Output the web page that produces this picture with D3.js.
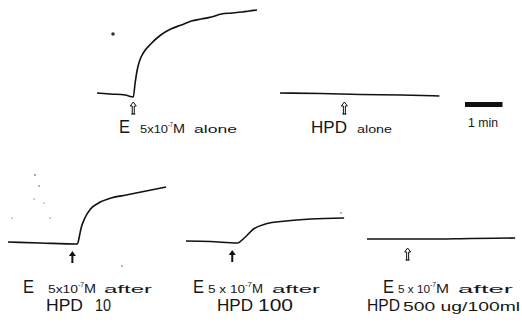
<!DOCTYPE html>
<html>
<head>
<meta charset="utf-8">
<script src="https://cdn.jsdelivr.net/npm/d3@7"></script>
<style>
  body { margin: 0; background: #fff; }
  svg { display: block; }
  text { font-family: "Liberation Sans", Arial, sans-serif; fill: #161616; }
</style>
</head>
<body>
<svg id="fig"></svg>
<script>
// Recorded traces: [time (s), pen deflection (mm)], t = 0 at the left end of each trace
const eAlone = [[0,0],[21,-1],[45,-2],[58,-4],[61,10],[64,22],[68,32],[74,40],[86,49],[102,58],[118,64],[135,68],[151,72],[167,74],[183,76],[199,79],[216,80],[232,81],[256,83]];
const hpdAlone = [[0,0],[65,-0.5],[129,-1.5],[194,-2],[255,-3]];
const eAfterHpd10 = [[0,0],[52,-1],[111,-2],[114,5],[117,14],[123,24],[132,33],[145,39],[165,44],[189,47],[213,50],[253,55]];
const eAfterHpd100 = [[0,0],[39,-0.5],[82,-2],[95,4],[108,12],[127,17],[160,20],[200,22],[253,23]];
const eAfterHpd500 = [[0,0],[86,0],[167,0.5],[237,1]];

// time of drug addition (s) for each trace
const doseTimes = [58, 103, 103, 74, 65];
const scaleBarSeconds = 60;

const traces = [eAlone, hpdAlone, eAfterHpd10, eAfterHpd100, eAfterHpd500];

// label texts
const concText = ["5x10", "5x10", "5 x 10", "5 x 10"];   // E 5x10^-7 M, panels 1,3,4,5
const tailText = ["alone", "after", "after", "after"];
const hpdDoses = ["10", "100", "500 ug/100ml"];

// ---- layout (pixels) ----
const W = 522, H = 326;
const origins = [[97, 93], [280, 93], [8, 242], [186, 241], [367, 239]];
const arrowSolid = [false, false, true, true, false];

const svg = d3.select("#fig").attr("width", W).attr("height", H);

const x = d3.scaleLinear().domain([0, 60]).range([0, 37.5]);
const y = d3.scaleLinear().domain([0, 100]).range([0, -100]);

traces.forEach((data, i) => {
  const [ox, oy] = origins[i];
  const g = svg.append("g").attr("transform", `translate(${ox},${oy})`);

  g.append("path")
    .datum(data)
    .attr("d", d3.line().x(d => x(d[0])).y(d => y(d[1])).curve(d3.curveMonotoneX))
    .attr("fill", "none")
    .attr("stroke", "#111")
    .attr("stroke-width", 1.6)
    .attr("stroke-linejoin", "round");

  // drug addition arrow
  const ax = x(doseTimes[i]);
  const top = 9, bot = 21;
  if (arrowSolid[i]) {
    g.append("line").attr("x1", ax).attr("x2", ax).attr("y1", top + 3).attr("y2", bot)
      .attr("stroke", "#111").attr("stroke-width", 2);
    g.append("path").attr("d", `M${ax - 3.5},${top + 5}L${ax},${top}L${ax + 3.5},${top + 5}Z`)
      .attr("fill", "#111");
  } else {
    g.append("path")
      .attr("d", `M${ax - 1},${bot}L${ax - 1},${top + 4}L${ax - 3},${top + 4}L${ax},${top}L${ax + 3},${top + 4}L${ax + 1},${top + 4}L${ax + 1},${bot}`)
      .attr("fill", "#fff").attr("stroke", "#111").attr("stroke-width", 1);
    g.append("line").attr("x1", ax - 2).attr("x2", ax + 2).attr("y1", bot).attr("y2", bot)
      .attr("stroke", "#111").attr("stroke-width", 1.2);
  }
});

// ---- labels: lettering is wide, so each piece is fitted to its width ----
function seg(px, py, str, size, width) {
  svg.append("text").attr("x", px).attr("y", py)
    .attr("font-size", size)
    .attr("textLength", width)
    .attr("lengthAdjust", "spacingAndGlyphs")
    .text(str);
}

// E 5x10^-7 M ... : [x of E, x of conc, conc width, x of M, M width, x of tail, tail width, baseline]
const eLabelPos = [
  [119, 140, 28, 173, 12, 194, 43, 133],
  [23, 48, 30, 84, 12, 104, 48, 293],
  [193, 208, 37, 252, 11, 272, 48, 293],
  [383, 398, 32, 436, 13, 458, 55, 293]
];
eLabelPos.forEach((p, i) => {
  const [ex, cx, cw, mx, mw, tx, tw, by] = p;
  seg(ex, by, "E", 18, 11);
  seg(cx, by, concText[i], 11, cw);
  seg(cx + cw, by - 6, "-7", 7, mx - cx - cw);
  seg(mx, by, "M", 12, mw);
  seg(tx, by, tailText[i], 10, tw);
});

// HPD alone
seg(311, 133, "HPD", 17, 36);
seg(357, 133, "alone", 10, 35);

// HPD dose lines: [x of HPD, HPD width, x of dose, dose width, dose font]
const hpdPos = [[46, 37, 95, 16, 16], [217, 36, 258, 35, 16], [367, 33, 403, 117, 13]];
hpdPos.forEach((p, i) => {
  seg(p[0], 311, "HPD", 17, p[1]);
  seg(p[2], 311, hpdDoses[i], p[4], p[3]);
});

// ---- 1 min scale bar ----
const bar = svg.append("g").attr("transform", "translate(465,102)");
bar.append("rect").attr("width", x(scaleBarSeconds)).attr("height", 5).attr("fill", "#111");
svg.append("text").attr("x", 468).attr("y", 127).attr("font-size", 12)
  .attr("textLength", 30).attr("lengthAdjust", "spacingAndGlyphs").text("1 min");

// ---- specks in the scan ----
const specks = [[113, 34, 1.8], [35, 175, 0.8], [39, 186, 0.7], [34, 199, 0.6], [44, 203, 0.6], [12, 218, 0.6], [50, 218, 0.6], [122, 266, 0.7], [341, 213, 0.7]];
svg.selectAll(".speck").data(specks).enter().append("circle")
  .attr("class", "speck")
  .attr("cx", d => d[0]).attr("cy", d => d[1]).attr("r", d => d[2])
  .attr("fill", "#333");
</script>
</body>
</html>
